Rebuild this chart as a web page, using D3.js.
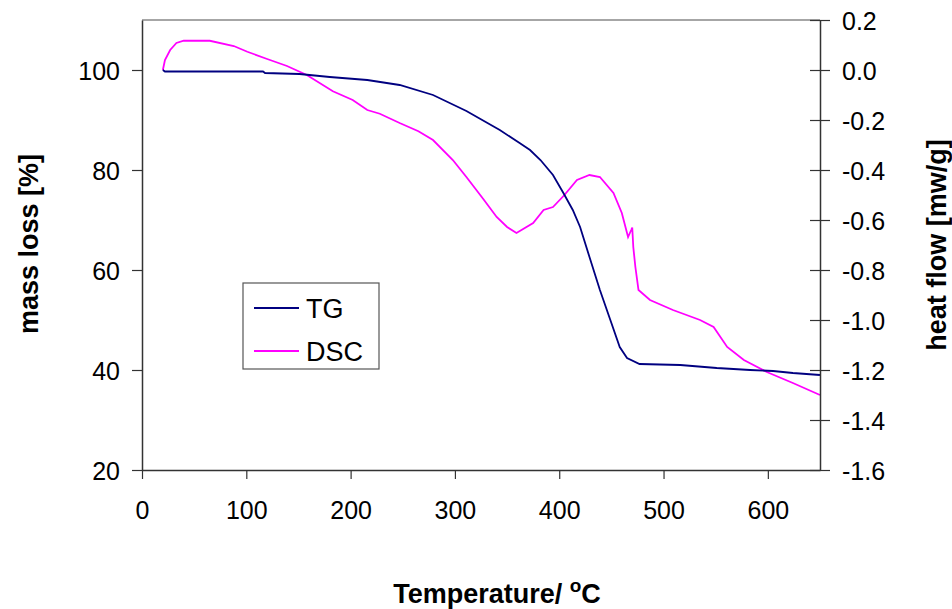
<!DOCTYPE html>
<html>
<head>
<meta charset="utf-8">
<script src="https://cdn.jsdelivr.net/npm/d3@7"></script>
<style>
  body { margin: 0; background: #fff; }
  text { font-family: "Liberation Sans", Arial, sans-serif; fill: #000; }
  .tick text { font-size: 25px; }
  .axis-title { font-size: 27px; font-weight: bold; }
</style>
</head>
<body>
<div class="chart"></div>
<script>
// TG curve: temperature (°C) and mass (%)
var tgTemp = [20, 22, 116, 118, 151, 180, 216, 247, 279, 311, 343, 362, 372, 382, 394, 404, 413, 420, 429, 439, 449, 458, 465, 477, 516, 551, 583, 605, 624, 650];
var tgMass = [100, 99.7, 99.7, 99.4, 99.2, 98.6, 98, 97, 95, 91.8, 88, 85.4, 84, 82, 79, 75.4, 72, 68.6, 62.6, 56, 50, 44.6, 42.4, 41.2, 41, 40.4, 40, 39.8, 39.4, 39];

// DSC curve: temperature (°C) and heat flow (mw/g)
var dscTemp = [20, 22, 27, 33, 40, 65, 88, 101, 120, 139, 158, 183, 202, 216, 228, 247, 265, 279, 298, 311, 327, 340, 350, 359, 375, 385, 394, 405, 417, 429, 439, 452, 460, 466, 469, 470, 471, 473, 476, 487, 509, 535, 548, 561, 577, 599, 624, 650];
var dscFlow = [0.0, 0.04, 0.08, 0.108, 0.117, 0.117, 0.096, 0.073, 0.044, 0.016, -0.02, -0.085, -0.12, -0.16, -0.175, -0.212, -0.245, -0.28, -0.36, -0.428, -0.515, -0.588, -0.628, -0.652, -0.612, -0.56, -0.548, -0.5, -0.44, -0.42, -0.428, -0.492, -0.572, -0.668, -0.64, -0.63, -0.708, -0.788, -0.88, -0.92, -0.96, -1.0, -1.028, -1.108, -1.16, -1.208, -1.252, -1.3];

var xTicks = [0, 100, 200, 300, 400, 500, 600];
var leftTicks = [20, 40, 60, 80, 100];
var rightTicks = [-1.6, -1.4, -1.2, -1.0, -0.8, -0.6, -0.4, -0.2, 0.0, 0.2];
var seriesNames = ["TG", "DSC"];
var seriesColors = ["#000080", "#ff00ff"];

var svgWidth = 952;
var svgHeight = 609;
var margin = { top: 20, right: 132, bottom: 139, left: 142 };
var width = svgWidth - margin.left - margin.right;
var height = svgHeight - margin.top - margin.bottom;

var svg = d3.select(".chart")
  .append("svg")
  .attr("width", svgWidth)
  .attr("height", svgHeight);

var chart = svg.append("g")
  .attr("transform", "translate(" + margin.left + "," + margin.top + ")");

var xScale = d3.scaleLinear().domain([0, 650]).range([0, width]);
var yLeft = d3.scaleLinear().domain([20, 110]).range([height, 0]);
var yRight = d3.scaleLinear().domain([-1.6, 0.2]).range([height, 0]);

// top frame line
chart.append("line")
  .attr("x1", 0).attr("x2", width)
  .attr("y1", 0).attr("y2", 0)
  .attr("stroke", "#888")
  .attr("stroke-width", 1.5);

// curves
var tgLine = d3.line()
  .x(function(d, i) { return xScale(tgTemp[i]); })
  .y(function(d) { return yLeft(d); });

var dscLine = d3.line()
  .x(function(d, i) { return xScale(dscTemp[i]); })
  .y(function(d) { return yRight(d); });

chart.append("path")
  .attr("d", dscLine(dscFlow))
  .attr("fill", "none")
  .attr("stroke", seriesColors[1])
  .attr("stroke-width", 1.8);

chart.append("path")
  .attr("d", tgLine(tgMass))
  .attr("fill", "none")
  .attr("stroke", seriesColors[0])
  .attr("stroke-width", 1.8);

// axes
var bottomAxis = d3.axisBottom(xScale).tickValues(xTicks).tickSize(9).tickPadding(22).tickSizeOuter(0);
var leftAxis = d3.axisLeft(yLeft).tickValues(leftTicks).tickSize(10).tickPadding(12).tickSizeOuter(0);
// plain hyphen for the minus sign, like the original
var rightAxis = d3.axisRight(yRight).tickValues(rightTicks).tickSize(10).tickPadding(12)
  .tickSizeOuter(0).tickFormat(function(d) { return d.toFixed(1); });

var gx = chart.append("g")
  .attr("transform", "translate(0," + height + ")")
  .call(bottomAxis);

var gl = chart.append("g").call(leftAxis);

var gr = chart.append("g")
  .attr("transform", "translate(" + width + ",0)")
  .call(rightAxis);

// right ticks cross the axis
gr.selectAll(".tick line").attr("x1", -10);

[gx, gl, gr].forEach(function(g) {
  g.select(".domain").attr("stroke", "#333").attr("stroke-width", 1.5);
  g.selectAll(".tick line").attr("stroke", "#333").attr("stroke-width", 1.2);
  g.selectAll(".tick text").attr("font-size", 25).attr("fill", "#000");
});
gl.selectAll(".tick text").attr("dy", "0.36em");
gr.selectAll(".tick text").attr("dy", "0.36em");
gx.selectAll(".tick text").attr("dy", "0.71em");

// axis titles
svg.append("text")
  .attr("class", "axis-title")
  .attr("transform", "translate(38,244) rotate(-90)")
  .attr("text-anchor", "middle")
  .text("mass loss [%]");

svg.append("text")
  .attr("class", "axis-title")
  .attr("transform", "translate(946,245) rotate(-90)")
  .attr("text-anchor", "middle")
  .text("heat flow [mw/g]");

var xTitle = svg.append("text")
  .attr("class", "axis-title")
  .attr("x", 497)
  .attr("y", 603)
  .attr("text-anchor", "middle");
xTitle.append("tspan").text("Temperature/ ");
xTitle.append("tspan").attr("dy", -11).attr("font-size", 19).text("o");
xTitle.append("tspan").attr("dy", 11).text("C");

// legend
var legend = svg.append("g").attr("transform", "translate(243,283)");
legend.append("rect")
  .attr("width", 136)
  .attr("height", 86)
  .attr("fill", "#fff")
  .attr("stroke", "#555")
  .attr("stroke-width", 1.2);

seriesNames.forEach(function(name, i) {
  var y = 25 + i * 43;
  legend.append("line")
    .attr("x1", 11).attr("x2", 56)
    .attr("y1", y).attr("y2", y)
    .attr("stroke", seriesColors[i])
    .attr("stroke-width", 1.8);
  legend.append("text")
    .attr("x", 63)
    .attr("y", y)
    .attr("dy", "0.36em")
    .attr("font-size", 27)
    .text(name);
});
</script>
</body>
</html>
